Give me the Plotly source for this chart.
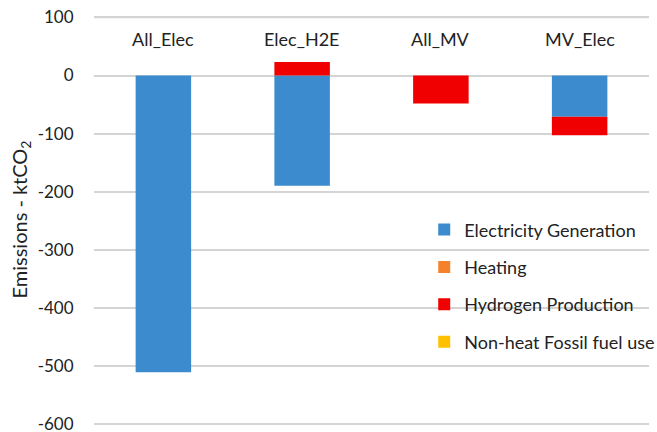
import plotly.graph_objects as go

categories = ["All_Elec", "Elec_H2E", "All_MV", "MV_Elec"]
elec_gen = [-511, -190, 0, -71]
heating = [0, 0, 0, 0]
hydrogen = [0, 23.5, -48, -32]
nonheat_fossil = [0, 0, 0, 0]
y_ticks = [100, 0, -100, -200, -300, -400, -500, -600]

series = [
    ("Electricity Generation", elec_gen, "#3C8BCE"),
    ("Heating", heating, "#F5822A"),
    ("Hydrogen Production", hydrogen, "#F00000"),
    ("Non-heat Fossil fuel use", nonheat_fossil, "#FFC000"),
]

FONT = "Lato, 'Open Sans', sans-serif"
GRID = "#D4D4D4"

fig = go.Figure()
for name, vals, color in series:
    fig.add_trace(go.Bar(
        x=categories, y=vals, name=name, legendgroup=name,
        marker=dict(color=color, line=dict(width=0)),
    ))

for c in categories:
    fig.add_annotation(x=c, xref="x", y=0.94, yref="paper", text=c,
                       showarrow=False, font=dict(size=18, color="#222", family=FONT),
                       yanchor="middle")

# top gridline (plotly drops the one nearest the plot edge)
fig.add_shape(type="line", xref="paper", x0=0, x1=1, yref="y", y0=y_ticks[0], y1=y_ticks[0],
              line=dict(color=GRID, width=1.5), layer="below")

fig.update_layout(
    width=657, height=432,
    margin=dict(l=94, r=8, t=14, b=7, autoexpand=False),
    barmode="relative", bargap=0.6,
    plot_bgcolor="white", paper_bgcolor="white",
    font=dict(family=FONT, size=18, color="#222"),
    legend=dict(x=0.595, y=0.52, xanchor="left", yanchor="top",
                bgcolor="rgba(0,0,0,0)", traceorder="grouped",
                tracegroupgap=11, font=dict(size=18, color="#222")),
    xaxis=dict(showticklabels=False, showgrid=False, zeroline=False, showline=False),
    yaxis=dict(range=[-602, 106], tickvals=y_ticks, ticktext=[str(v) for v in y_ticks],
               showgrid=True, gridcolor=GRID, gridwidth=1.5,
               zeroline=True, zerolinecolor=GRID, zerolinewidth=1.5,
               showline=False, ticks="outside", ticklen=16, tickcolor="rgba(0,0,0,0)",
               automargin=False, ticklabeloverflow="allow",
               tickfont=dict(size=17, color="#222"),
               title=dict(text="Emissions - ktCO<sub>2</sub>", font=dict(size=20, color="#222"),
                          standoff=4)),
)

fig.write_html("out.html", config={"displayModeBar": False},
               post_script="document.body.style.margin='0';")
